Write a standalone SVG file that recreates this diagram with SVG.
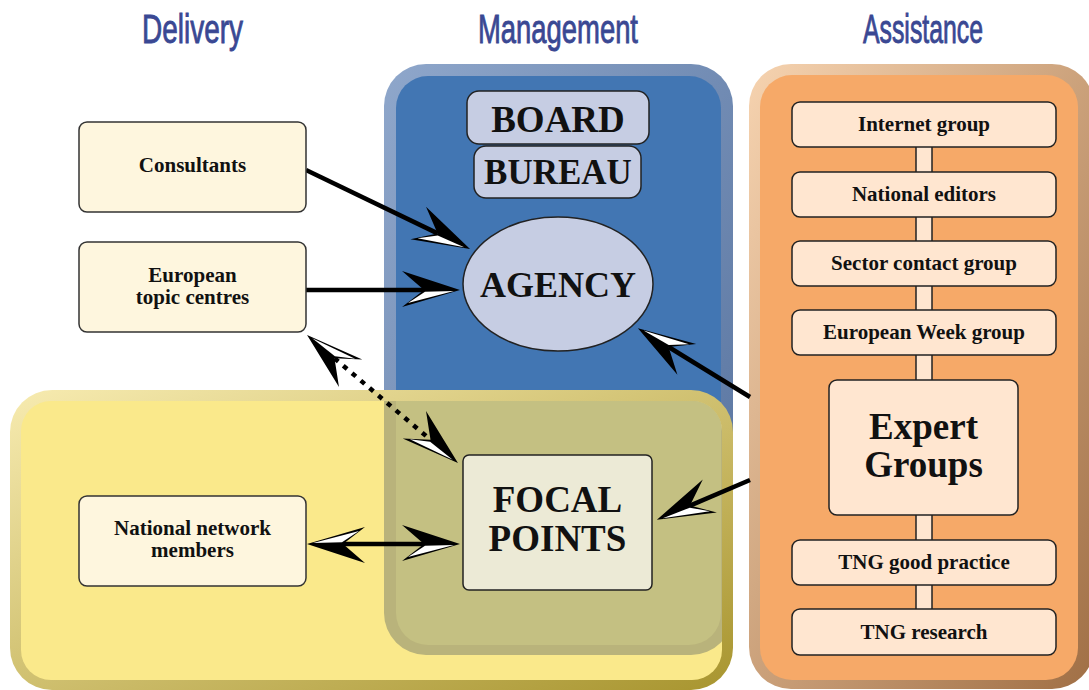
<svg xmlns="http://www.w3.org/2000/svg" width="1089" height="690" viewBox="0 0 1089 690">
<style>
.hdr{font-family:"Liberation Sans",Arial,sans-serif;font-size:41px;fill:#3a4893;stroke:#3a4893;stroke-width:0.9}
.t{font-family:"Liberation Serif","Times New Roman",serif;font-weight:bold;fill:#111;text-anchor:middle}
.s{font-size:21px}
.b{font-size:37px}
.box{fill:#fef6de;stroke:#333;stroke-width:1.5}
.obox{fill:#ffe6d0;stroke:#222;stroke-width:1.5}
.lbox{fill:#c6cde3;stroke:#222;stroke-width:1.5}
.con{fill:none;stroke:#000;stroke-width:4.5}
</style>
<defs>
<linearGradient id="gBlue" x1="0" y1="0" x2="1" y2="1"><stop offset="0" stop-color="#8fa7cb"/><stop offset="1" stop-color="#54709c"/></linearGradient>
<linearGradient id="gYel" x1="0" y1="0" x2="1" y2="1"><stop offset="0" stop-color="#f7ebb0"/><stop offset="1" stop-color="#a8952f"/></linearGradient>
<linearGradient id="gOr" x1="0" y1="0" x2="1" y2="1"><stop offset="0" stop-color="#f6d3b0"/><stop offset="1" stop-color="#a06f45"/></linearGradient>
<clipPath id="yin"><rect x="21" y="401" width="701" height="279" rx="30"/></clipPath>
<marker id="ah" viewBox="-62 -22 66 44" markerWidth="66" markerHeight="44" refX="-36" refY="0" orient="auto-start-reverse" markerUnits="userSpaceOnUse">
<path d="M0,0 L-58,-19 L-36,0 L-58,17 Z" fill="#000"/>
<path d="M-6,1 L-35,1.8 L-52,13 Z" fill="#fff"/>
</marker>
<marker id="ahm" viewBox="-62 -22 66 44" markerWidth="66" markerHeight="44" refX="-36" refY="0" orient="auto" markerUnits="userSpaceOnUse">
<path d="M0,0 L-58,19 L-36,0 L-58,-17 Z" fill="#000"/>
<path d="M-6,-1 L-35,-1.8 L-52,-13 Z" fill="#fff"/>
</marker>
</defs>

<g id="headers">
<text class="hdr" x="142" y="43" textLength="101" lengthAdjust="spacingAndGlyphs">Delivery</text>
<text class="hdr" x="478" y="43" textLength="160" lengthAdjust="spacingAndGlyphs">Management</text>
<text class="hdr" x="863" y="43" textLength="120" lengthAdjust="spacingAndGlyphs">Assistance</text>
</g>

<g id="panel-management">
<rect x="384" y="64" width="349" height="591" rx="42" fill="url(#gBlue)"/>
<rect x="396" y="76" width="325" height="569" rx="32" fill="#4276b3"/>
</g>
<g id="panel-delivery">
<rect x="10" y="390" width="723" height="300" rx="42" fill="url(#gYel)"/>
<rect x="21" y="401" width="701" height="279" rx="30" fill="#fae98b"/>
<g clip-path="url(#yin)">
<rect x="384" y="64" width="349" height="591" rx="42" fill="#b9b37b"/>
<rect x="396" y="76" width="325" height="569" rx="32" fill="#c4c082"/>
</g>
</g>
<g id="panel-assistance">
<rect x="749" y="64" width="345" height="625" rx="42" fill="url(#gOr)"/>
<rect x="760" y="75" width="318" height="605" rx="32" fill="#f6a968"/>
</g>

<g id="connectors">
<line class="con" x1="306" y1="170" x2="437.6" y2="233.4" marker-end="url(#ah)"/>
<line class="con" x1="306" y1="290" x2="424" y2="290" marker-end="url(#ah)"/>
<line class="con" x1="334.5" y1="358.3" x2="430.5" y2="439.7" stroke-width="5" stroke-dasharray="5 6.5" marker-start="url(#ah)" marker-end="url(#ah)"/>
<line class="con" x1="343" y1="544" x2="424" y2="544" marker-start="url(#ah)" marker-end="url(#ah)"/>
<line class="con" x1="750" y1="397" x2="668.6" y2="347" marker-end="url(#ah)"/>
<line class="con" x1="750" y1="480" x2="690" y2="505.6" marker-end="url(#ahm)"/>
</g>

<g id="node-consultants">
<rect class="box" x="79" y="122" width="227" height="90" rx="8"/>
<text class="t s" x="192.5" y="172">Consultants</text>
</g>
<g id="node-etc">
<rect class="box" x="79" y="242" width="227" height="90" rx="8"/>
<text class="t s" x="192.5" y="282">European</text>
<text class="t s" x="192.5" y="304">topic centres</text>
</g>
<g id="node-nnm">
<rect class="box" x="79" y="496" width="227" height="90" rx="8"/>
<text class="t s" x="192.5" y="535">National network</text>
<text class="t s" x="192.5" y="557">members</text>
</g>

<g id="node-board">
<rect class="lbox" x="467" y="91" width="182" height="53" rx="12"/>
<text class="t b" x="558" y="132">BOARD</text>
</g>
<g id="node-bureau">
<rect class="lbox" x="474" y="146" width="167" height="52" rx="12"/>
<text class="t" font-size="35" x="558" y="184">BUREAU</text>
</g>
<g id="node-agency">
<ellipse cx="558" cy="284" rx="95" ry="67" fill="#c6cde3" stroke="#222" stroke-width="1.5"/>
<text class="t" font-size="36" x="558" y="297">AGENCY</text>
</g>
<g id="node-focal">
<rect x="463" y="455" width="189" height="135" rx="6" fill="#ecead6" stroke="#222" stroke-width="1.5"/>
<text class="t b" x="557.5" y="512">FOCAL</text>
<text class="t b" x="557.5" y="551">POINTS</text>
</g>

<g id="expert-chain">
<rect class="obox" x="916" y="140" width="16" height="475"/>
<g id="node-internet"><rect class="obox" x="792" y="102" width="264" height="45" rx="8"/><text class="t s" x="924" y="131">Internet group</text></g>
<g id="node-editors"><rect class="obox" x="792" y="172" width="264" height="45" rx="8"/><text class="t s" x="924" y="201">National editors</text></g>
<g id="node-sector"><rect class="obox" x="792" y="241" width="264" height="45" rx="8"/><text class="t s" x="924" y="270">Sector contact group</text></g>
<g id="node-week"><rect class="obox" x="792" y="310" width="264" height="45" rx="8"/><text class="t s" x="924" y="339">European Week group</text></g>
<g id="node-expert"><rect class="obox" x="829" y="380" width="189" height="135" rx="8"/><text class="t b" x="923.5" y="439">Expert</text><text class="t b" x="923.5" y="477">Groups</text></g>
<g id="node-tngpractice"><rect class="obox" x="792" y="540" width="264" height="45" rx="8"/><text class="t s" x="924" y="569">TNG good practice</text></g>
<g id="node-tngresearch"><rect class="obox" x="792" y="609" width="264" height="46" rx="8"/><text class="t s" x="924" y="639">TNG research</text></g>
</g>
</svg>
